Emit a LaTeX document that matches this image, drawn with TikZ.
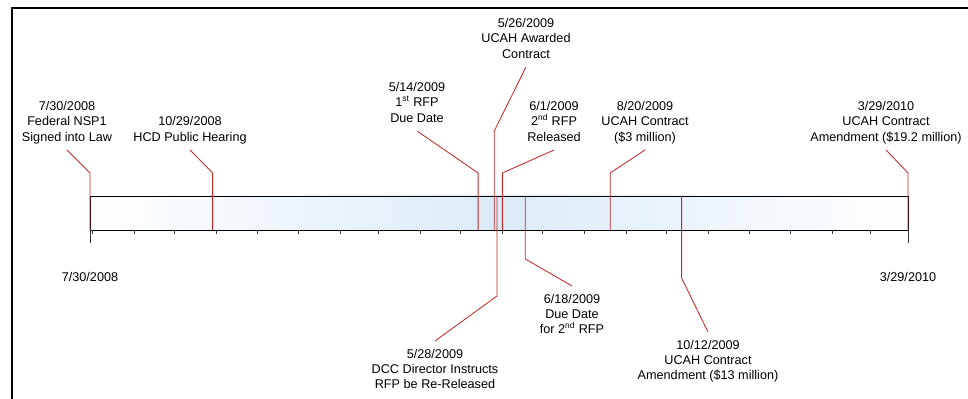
\documentclass[tikz,border=0pt]{standalone}
\usepackage{fontspec}
\setmainfont{Liberation Sans}
\usepackage{xcolor}
\usepackage{tikz}
\usetikzlibrary{positioning}
\definecolor{eventred}{HTML}{C82828}
\definecolor{barblue}{HTML}{DCEBF8}
\definecolor{tickgray}{HTML}{333333}

\begin{document}
\begin{tikzpicture}[x=0.025cm,y=0.025cm,
    evline/.style={eventred, line width=0.6pt},
    evlabel/.style={font=\fontsize{9}{11}\selectfont, align=center, inner sep=0pt, text depth=0pt},
    tickmark/.style={tickgray, line width=0.6pt}]
      \useasboundingbox (0,0) rectangle (968,399);
      \draw[line width=0.05cm] (12,0) -- (12,391) -- (968,391);
      \shade[left color=white, right color=white, middle color=barblue] (90,169) rectangle (908,203);
      \draw[line width=0.7pt] (90,169) rectangle (908,203);
      \foreach \d in {2,33,63,94,124,155,186,214,245,275,306,336,367,398,428,459,489,520,551,579}
        \draw[tickmark] ({90+\d*1.34761},169) -- ++(0,-4);
      \coordinate (a0) at (90,156);
      \coordinate (a1) at (908,156);
      \draw[tickmark] (90,169) -- (a0);
      \draw[tickmark] (908,169) -- (a1);
      \node[evlabel, below=0.72cm of a0] (d0) {7/30/2008};
      \node[evlabel, below=0.72cm of a1] (d1) {3/29/2010};
      \foreach \i/\d/\ky/\ex/\ey/\txt in {1/0/226/67/249/{7/30/2008\\Federal NSP1\\Signed into Law},
          2/91/226/190/249/{10/29/2008\\HCD Public Hearing},
          3/288/226/417/268/{5/14/2009\\1\textsuperscript{st} RFP\\Due Date},
          4/300/268/526/332/{5/26/2009\\UCAH Awarded\\Contract},
          6/306/226/554/249/{6/1/2009\\2\textsuperscript{nd} RFP\\Released},
          8/386/226/645/249/{8/20/2009\\UCAH Contract\\(\$3 million)},
          10/607/226/886/249/{3/29/2010\\UCAH Contract\\Amendment (\$19.2 million)}}{
        \pgfmathsetmacro\bx{90+\d*1.34761}
        \coordinate (b\i) at (\bx,169);
        \coordinate (k\i) at (\bx,\ky);
        \coordinate (n\i) at (\ex,\ey);
        \node[evlabel, above=0.21cm of n\i] (e\i) {\txt};
        \draw[evline] (b\i) -- (k\i) -- (n\i);
      }
      \foreach \i/\d/\ky/\ex/\ey/\txt in {5/302/103/435/58/{5/28/2009\\DCC Director Instructs\\RFP be Re-Released},
          7/323/140/572/113/{6/18/2009\\Due Date\\for 2\textsuperscript{nd} RFP},
          9/439/121/708/67/{10/12/2009\\UCAH Contract\\Amendment (\$13 million)}}{
        \pgfmathsetmacro\bx{90+\d*1.34761}
        \coordinate (b\i) at (\bx,203);
        \coordinate (k\i) at (\bx,\ky);
        \coordinate (n\i) at (\ex,\ey);
        \node[evlabel, below=0.19cm of n\i] (e\i) {\txt};
        \draw[evline] (b\i) -- (k\i) -- (n\i);
      }
    \end{tikzpicture}
\end{document}
